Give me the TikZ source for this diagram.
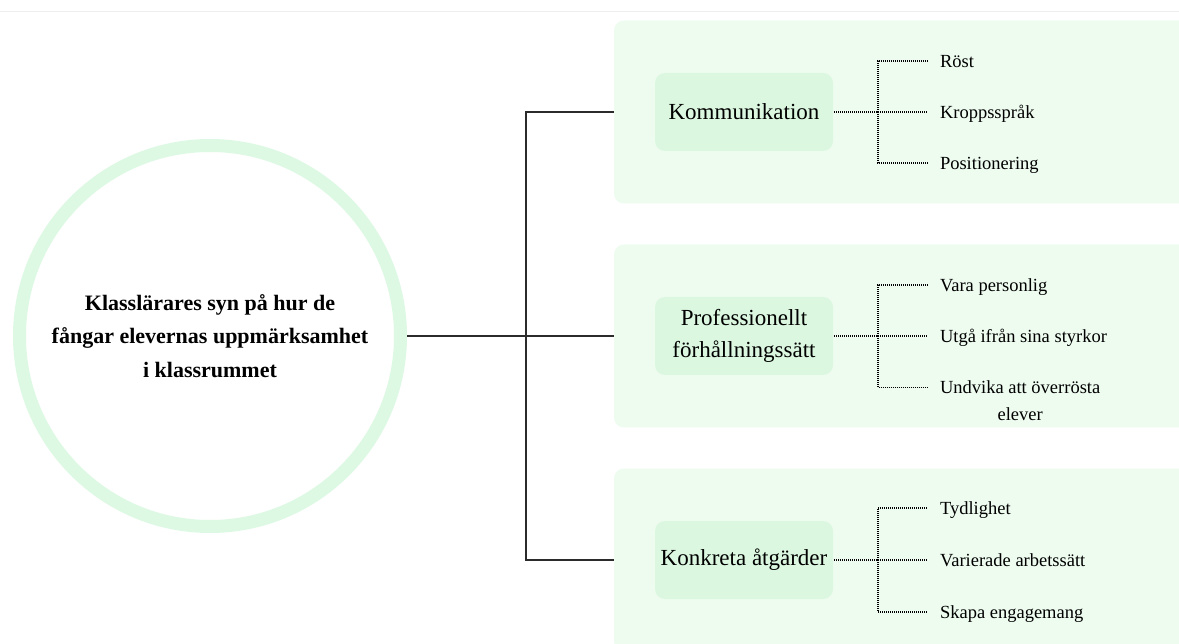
\documentclass[tikz,border=0pt]{standalone}
\usepackage{fontspec}
\setmainfont{Liberation Serif}
\definecolor{panelbg}{HTML}{EEFCF0}
\definecolor{boxbg}{HTML}{DBF7E0}
\definecolor{ringc}{HTML}{DDF9E3}
\definecolor{linec}{HTML}{2B2B2B}
\definecolor{topline}{HTML}{EEEEEE}
\begin{document}
\begin{tikzpicture}[x=1pt,y=-1pt,
  panel/.style={fill=panelbg, draw=none, rounded corners=10pt, minimum width=600pt, minimum height=183pt, anchor=west, inner sep=0pt, outer sep=0pt},
  catbox/.style={fill=boxbg, draw=none, rounded corners=10pt, minimum width=178pt, minimum height=78pt, inner sep=0pt, outer sep=1pt, align=center, font=\fontsize{23}{32}\selectfont},
  leaf/.style={anchor=west, inner xsep=12pt, inner ysep=0pt, outer sep=0pt, font=\fontsize{18.5}{27}\selectfont, text height=12.2pt, text depth=0pt},
  leaftwo/.style={anchor=west, inner xsep=12pt, inner ysep=0pt, outer sep=0pt, align=center, font=\fontsize{18.5}{27}\selectfont},
  mainline/.style={draw=linec, line width=1.5pt},
  dotline/.style={draw=black, line width=1.1pt, dash pattern=on 1pt off 1pt},
  rootnode/.style={circle, draw=ringc, line width=13pt, minimum size=381pt, inner sep=0pt, align=center, font=\fontsize{22}{33.5}\selectfont\bfseries}
]
\useasboundingbox (0,0) rectangle (1179,644);
\clip (0,0) rectangle (1179,644);
\fill[white] (0,0) rectangle (1179,644);
\draw[topline, line width=1pt] (0,12) -- (1179,12);

% panels
\node[panel] (p1) at (614,112) {};
\node[panel] (p2) at (614,336) {};
\node[panel] (p3) at (614,560) {};

% root
\node[rootnode] (root) at (210,336) {Klasslärares syn på hur de\\fångar elevernas uppmärksamhet\\i klassrummet};

% trunk
\coordinate (trunk) at (526,336);
\draw[mainline] (root.east) -- (trunk);
\draw[mainline] (trunk) |- (p1.west);
\draw[mainline] (trunk) -- (p2.west);
\draw[mainline] (trunk) |- (p3.west);
\draw[mainline] (p1.west -| trunk) -- (p3.west -| trunk);

% category boxes
\node[catbox] (b1) at (744,112) {Kommunikation};
\node[catbox] (b2) at (744,336) {Professionellt\\förhållningssätt};
\node[catbox] (b3) at (744,560) {Konkreta åtgärder};

% hubs
\coordinate (h1) at (878,112);
\coordinate (h2) at (878,336);
\coordinate (h3) at (878,560);

% leaves panel 1
\node[leaf] (l11) at (928,61) {Röst};
\node[leaf] (l12) at (928,112) {Kroppsspråk};
\node[leaf] (l13) at (928,163) {Positionering};
% leaves panel 2
\node[leaf] (l21) at (928,285) {Vara personlig};
\node[leaf] (l22) at (928,336) {Utgå ifrån sina styrkor};
\node[leaftwo] (l23) at (928,401) {Undvika att överrösta\\elever};
% leaves panel 3
\node[leaf] (l31) at (928,508) {Tydlighet};
\node[leaf] (l32) at (928,560) {Varierade arbetssätt};
\node[leaf] (l33) at (928,612) {Skapa engagemang};

% dotted connectors
\draw[dotline] (b1.east) -- (l12.west);
\draw[dotline] (h1) |- (l11.west);
\draw[dotline] (h1) |- (l13.west);

\draw[dotline] (b2.east) -- (l22.west);
\draw[dotline] (h2) |- (l21.west);
\draw[dotline] (h2) |- ([yshift=13.5pt]l23.west);

\draw[dotline] (b3.east) -- (l32.west);
\draw[dotline] (h3) |- (l31.west);
\draw[dotline] (h3) |- (l33.west);
\end{tikzpicture}
\end{document}
